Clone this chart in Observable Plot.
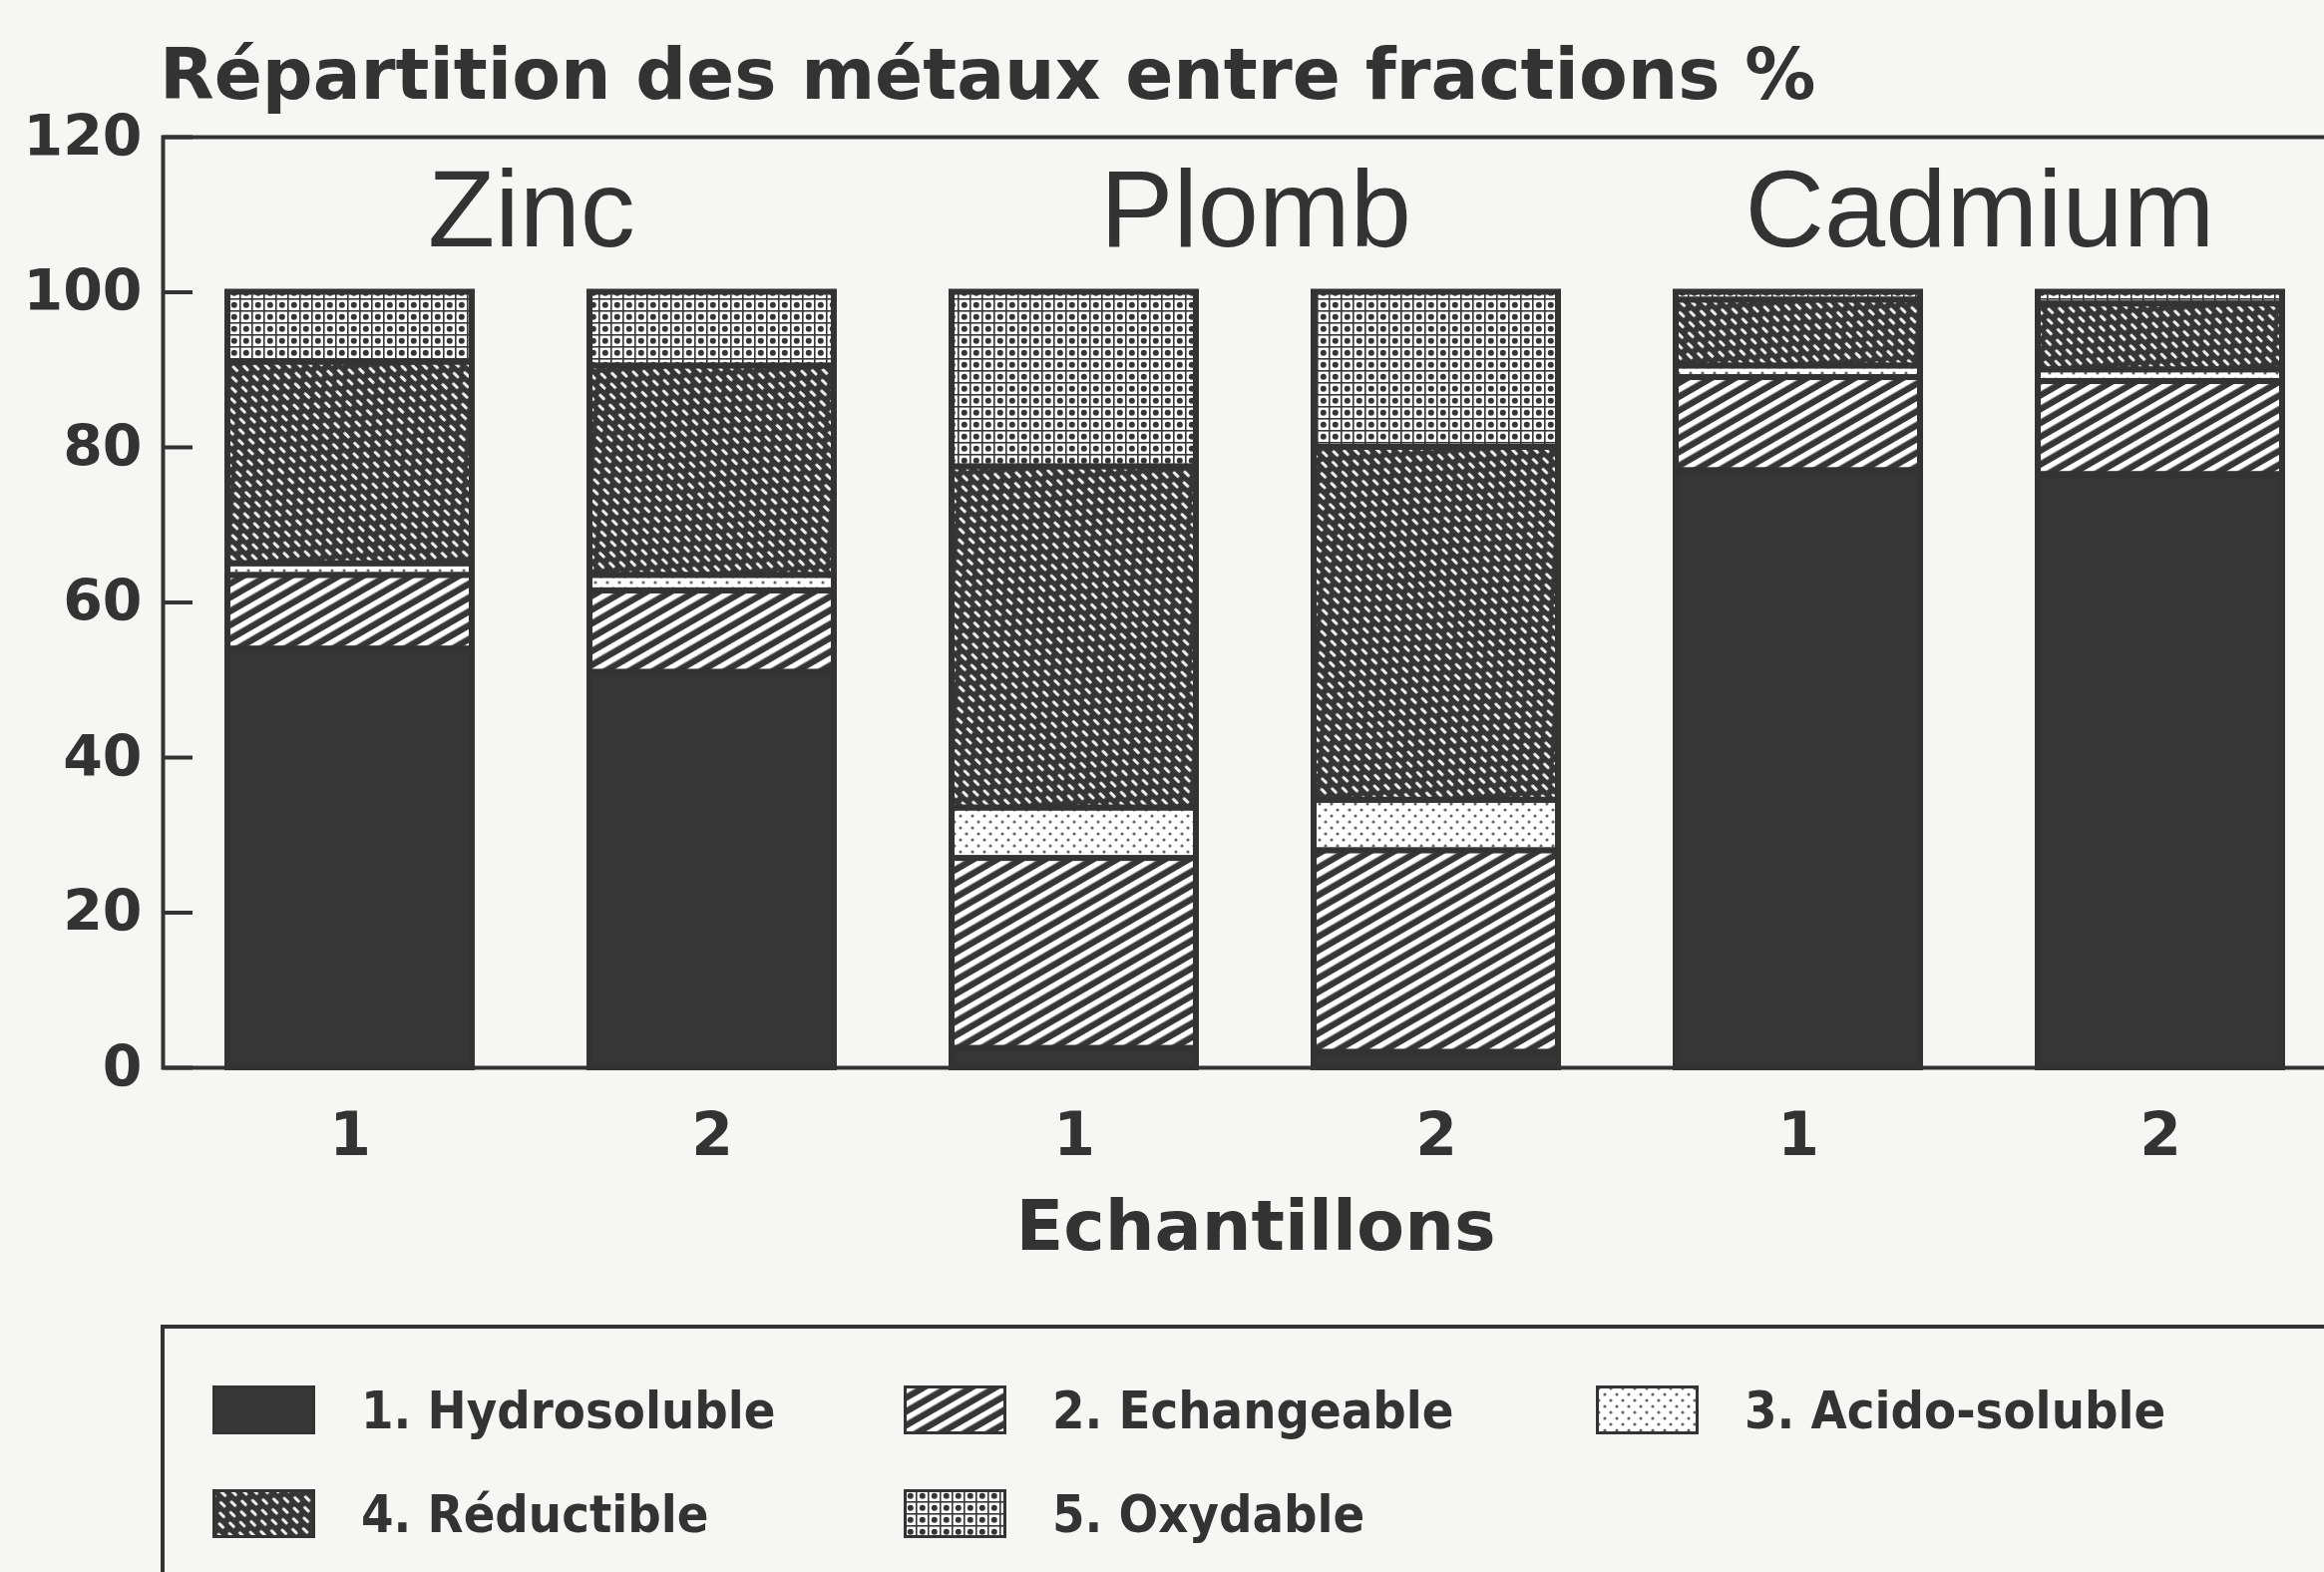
<!DOCTYPE html>
<html>
<head>
<meta charset="utf-8">
<script src="https://cdn.jsdelivr.net/npm/d3@7"></script>
<script src="https://cdn.jsdelivr.net/npm/@observablehq/plot@0.6"></script>
<style>
  html, body { margin: 0; padding: 0; background: #f6f6f4; }
  #root { position: relative; width: 2330px; height: 1576px; overflow: hidden; }
  #title { position: absolute; left: 160px; top: 50px; font: bold 71px/50px "DejaVu Sans", sans-serif; color: #333; white-space: nowrap; }
  #chart { position: absolute; left: 0; top: 95px; }
  #legend { position: absolute; left: 161px; top: 1328px; width: 2300px; height: 400px;
            border-top: 4px solid #333; border-left: 4px solid #333; }
  .item { position: absolute; display: flex; align-items: center; height: 49px; white-space: nowrap; }
  .item span { margin-left: 46px; font-family: "DejaVu Sans Condensed", "DejaVu Sans", sans-serif;
               font-stretch: condensed; font-weight: bold; font-size: 52px; color: #333; }
</style>
</head>
<body>
<svg width="0" height="0" style="position:absolute">
  <defs>
    <pattern id="pE" patternUnits="userSpaceOnUse" width="12" height="12" patternTransform="rotate(-30)">
      <rect width="12" height="12" fill="#363636"/>
      <rect y="3" width="12" height="5.5" fill="#fff"/>
    </pattern>
    <pattern id="pA" patternUnits="userSpaceOnUse" width="12" height="12">
      <rect width="12" height="12" fill="#fff"/>
      <circle cx="3" cy="3" r="1.6" fill="#666"/>
      <circle cx="9" cy="9" r="1.6" fill="#666"/>
    </pattern>
    <pattern id="pR" patternUnits="userSpaceOnUse" width="14" height="16" patternTransform="rotate(45)">
      <rect width="14" height="16" fill="#363636"/>
      <rect x="0" y="2" width="8" height="3" rx="1.5" fill="#eee"/>
      <rect x="7" y="10" width="8" height="3" rx="1.5" fill="#eee"/>
      <rect x="-7" y="10" width="8" height="3" rx="1.5" fill="#eee"/>
    </pattern>
    <pattern id="pO" patternUnits="userSpaceOnUse" width="12" height="12">
      <rect width="12" height="12" fill="#fff"/>
      <rect x="0" y="0" width="12" height="1.6" fill="#363636"/>
      <rect x="0" y="0" width="1.6" height="12" fill="#363636"/>
      <circle cx="6.8" cy="6.8" r="3" fill="#363636"/>
    </pattern>
  </defs>
</svg>
<div id="root">
  <div id="title">Répartition des métaux entre fractions %</div>
  <div id="chart"></div>
  <div id="legend"></div>
</div>
<script>
// ---- Data ----
const metals = ["Zinc", "Plomb", "Cadmium"];
const samples = ["1", "2"];
const fractions = ["1. Hydrosoluble", "2. Echangeable", "3. Acido-soluble", "4. Réductible", "5. Oxydable"];
// values per bar: Zinc 1, Zinc 2, Plomb 1, Plomb 2, Cadmium 1, Cadmium 2 (%)
const hydrosoluble = [54, 51, 2.5, 2, 77, 76.5];
const echangeable  = [9.5, 10.5, 24.5, 26, 12, 12];
const acidoSoluble = [1.5, 2, 6.5, 6.5, 1.5, 1.5];
const reductible   = [26, 27, 44, 45.5, 8.5, 8.5];
const oxydable     = [9, 9.5, 22.5, 20, 1, 1.5];
const yTicks = [0, 20, 40, 60, 80, 100, 120];

// ---- Build table ----
const series = [hydrosoluble, echangeable, acidoSoluble, reductible, oxydable];
const keys = metals.flatMap(m => samples.map(s => `${m}-${s}`));
const table = [];
keys.forEach((k, i) => fractions.forEach((f, j) => table.push({key: k, fraction: f, value: series[j][i]})));

const fills = ["#363636", "url(#pE)", "url(#pA)", "url(#pR)", "url(#pO)"];
const ink = "#333";

const xRange = [163, 2354], padIn = 0.324, padOut = 0.173;
const half = d3.scaleBand().domain(keys).range(xRange).paddingInner(padIn).paddingOuter(padOut).step() / 2;

const chart = Plot.plot({
  width: 2330,
  height: 1205,
  marginTop: 42,
  marginBottom: 230,
  marginLeft: 163,
  marginRight: -24,
  style: {background: "transparent", color: ink, overflow: "hidden"},
  x: {type: "band", domain: keys, range: xRange, paddingInner: padIn, paddingOuter: padOut},
  y: {domain: [0, 120]},
  color: {type: "ordinal", domain: fractions, range: fills},
  marks: [
    Plot.barY(table, {x: "key", y: "value", fill: "fraction", stroke: ink, strokeWidth: 6}),
    Plot.frame({stroke: ink, strokeWidth: 4}),
    Plot.axisY({ticks: yTicks, tickSize: 0, tickPadding: 21, fontSize: 57, fontWeight: "bold",
                fontFamily: "DejaVu Sans", label: null}),
    Plot.axisY({ticks: yTicks, tickSize: 30, dx: 30, strokeWidth: 4, tickFormat: () => "", label: null}),
    Plot.axisX({tickSize: 0, tickPadding: 45, tickFormat: k => k.split("-")[1], fontSize: 60,
                fontWeight: "bold", fontFamily: "DejaVu Sans", label: null}),
    Plot.text(metals, {x: m => `${m}-1`, y: 110.5, dx: half, text: m => m, fontSize: 110,
                       fontFamily: "Liberation Sans", fill: ink, lineAnchor: "middle"}),
    Plot.text(["Echantillons"], {frameAnchor: "bottom", dy: 160, text: d => d, fontSize: 70,
                                 fontWeight: "bold", fontFamily: "DejaVu Sans", fill: ink, lineAnchor: "middle"})
  ]
});
document.getElementById("chart").append(chart);

// ---- Legend ----
const colLefts = [48, 741, 1435], rowTops = [57, 161];
const legend = d3.select("#legend");
fractions.forEach((f, i) => {
  const item = legend.append("div").attr("class", "item")
    .style("left", colLefts[i % 3] + "px").style("top", rowTops[Math.floor(i / 3)] + "px");
  const sw = item.append("svg").attr("width", 103).attr("height", 49);
  sw.append("rect").attr("x", 1.5).attr("y", 1.5).attr("width", 100).attr("height", 46)
    .attr("fill", fills[i]).attr("stroke", ink).attr("stroke-width", 3);
  item.append("span").text(f);
});
</script>
</body>
</html>
